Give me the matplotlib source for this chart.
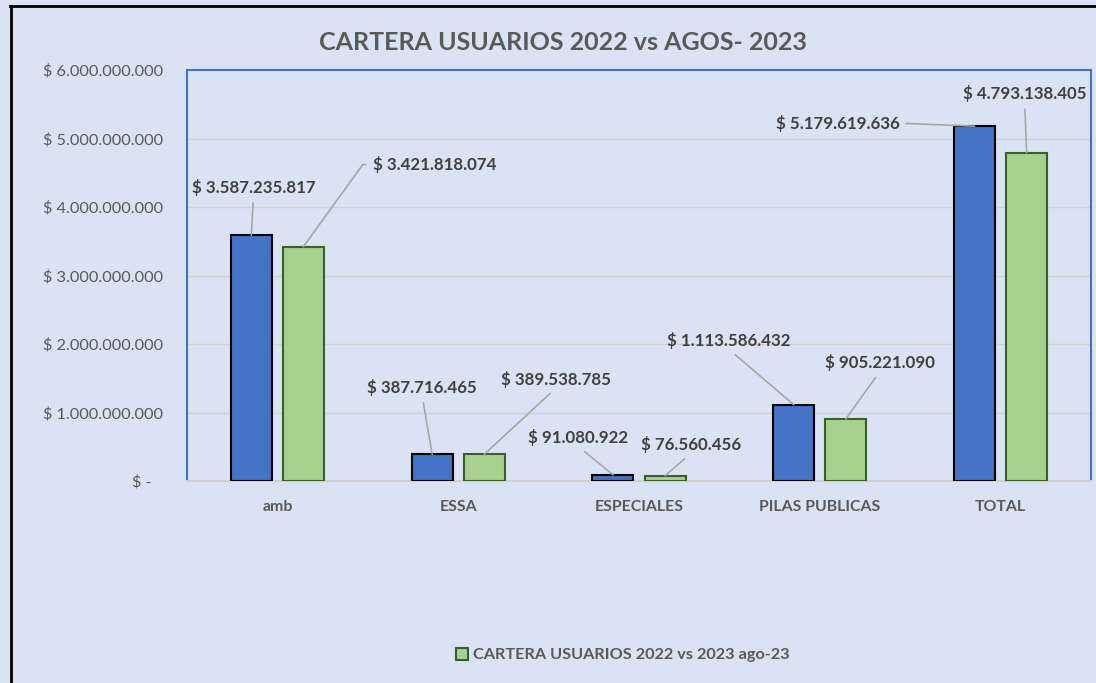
import matplotlib
matplotlib.use("Agg")
import matplotlib.pyplot as plt
from matplotlib.lines import Line2D
from matplotlib.patches import Patch
import numpy as np

plt.rcParams['font.family'] = ['Lato', 'DejaVu Sans']

# data
categories = ["amb", "ESSA", "ESPECIALES", "PILAS PUBLICAS", "TOTAL"]
cartera_2022 = [3587235817, 387716465, 91080922, 1113586432, 5179619636]
cartera_2023 = [3421818074, 389538785, 76560456, 905221090, 4793138405]
legend_label = "CARTERA USUARIOS 2022 vs 2023 ago-23"
title = "CARTERA USUARIOS 2022 vs AGOS- 2023"
yticks = [0, 1e9, 2e9, 3e9, 4e9, 5e9, 6e9]

# label offsets in pixels (dx, dy) from bar tops, and where the leader leaves the text
offs_2022 = [(2, 48), (-10, 67), (-35, 37), (-65, 64), (-137, 3)]
offs_2023 = [(131, 82), (72, 75), (26, 31), (34, 56), (-2, 59)]
rel_2022 = [(0.5, 0), (0.5, 0), (0.5, 0), (0.5, 0), (1, 0.5)]
rel_2023 = [(0, 0.5), (0.5, 0), (0.5, 0), (0.5, 0), (0.5, 0)]

bg = '#DAE3F3'
blue = '#4472C4'
green = '#A9D18E'
green_edge = '#3B5E2B'
txt = '#404040'
gray = '#595959'

def money(v):
    return "$ " + f"{int(v):,}".replace(",", ".")

fig = plt.figure(figsize=(10.96, 6.83), dpi=100, facecolor=bg)
ax = fig.add_axes([187/1096, 1-481/683, 904/1096, 411/683])
ax.set_facecolor(bg)

x = np.arange(len(categories))
w = 0.227
off = 0.144
b1 = ax.bar(x - off, cartera_2022, w, color=blue, edgecolor='black', linewidth=1.5, zorder=3)
b2 = ax.bar(x + off, cartera_2023, w, color=green, edgecolor=green_edge, linewidth=1.5, zorder=3)

ax.set_xlim(-0.5, len(categories) - 0.5)
ax.set_ylim(0, 6e9)
ax.set_yticks(yticks)
ax.set_yticklabels([money(v) if v else "$ -   " for v in yticks], color=gray, fontsize=11.7)
ax.set_xticks(x)
ax.set_xticklabels(categories, color=gray, fontsize=11.4, fontweight='bold')
ax.tick_params(axis='y', length=0, pad=17)
ax.tick_params(axis='x', length=0, pad=14)
ax.yaxis.grid(True, color='#D0D0D0', linewidth=1, zorder=0)
ax.set_axisbelow(True)

for s in ['left', 'top', 'right']:
    ax.spines[s].set_color(blue)
    ax.spines[s].set_linewidth(1.5)
ax.spines['bottom'].set_color('#D0D0D0')
ax.spines['bottom'].set_linewidth(1.5)

def label(xs, vals, offs, rels):
    for i, (xx, v) in enumerate(zip(xs, vals)):
        cs = 'arc3'
        if rels[i] == (0, 0.5):
            cs = 'arc,angleA=180,armA=10,angleB=90,armB=0,rad=0'
        ax.annotate(money(v), xy=(xx, v), xytext=offs[i], textcoords='offset pixels',
                    ha='center', va='center', fontsize=12.2, fontweight='bold', color=txt,
                    arrowprops=dict(arrowstyle='-', color='#A6A6A6', lw=1.2,
                                    shrinkA=3, shrinkB=0, relpos=rels[i],
                                    connectionstyle=cs),
                    zorder=5)

label(x - off, cartera_2022, offs_2022, rel_2022)
label(x + off, cartera_2023, offs_2023, rel_2023)

fig.text(563/1096, 1-42/683, title, ha='center', va='center', fontsize=18,
         fontweight='bold', color=gray)

leg = fig.legend(handles=[Patch(facecolor=green, edgecolor=green_edge, linewidth=1.5, label=legend_label)],
                 loc='center', bbox_to_anchor=(623/1096, 1-655/683), frameon=False,
                 handlelength=0.75, handleheight=0.75, handletextpad=0.3,
                 prop=dict(size=11.7, weight='bold'))
for t in leg.get_texts():
    t.set_color(gray)

# outer chart border (left and top edges visible)
fig.add_artist(Line2D([10.5/1096, 10.5/1096], [0, 1-6/683], color='black', lw=2, transform=fig.transFigure))
fig.add_artist(Line2D([10/1096, 1], [1-6/683, 1-6/683], color='black', lw=2, transform=fig.transFigure))

fig.savefig("out.png", dpi=100, facecolor=bg)
